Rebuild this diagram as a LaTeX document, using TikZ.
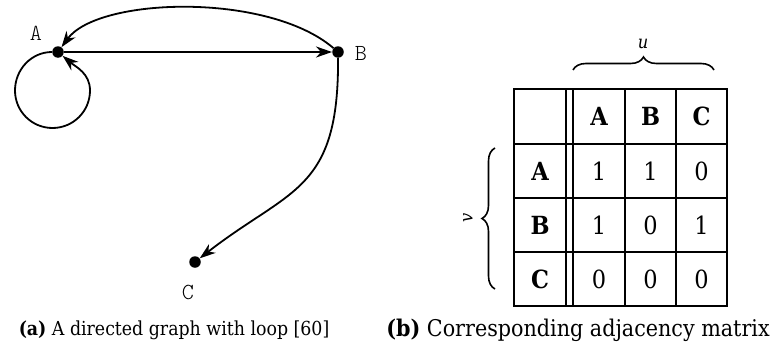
\documentclass[tikz,border=0pt]{standalone}
\usepackage{fontspec}
\newfontfamily\capfont{DejaVu Serif Condensed}
\newfontfamily\lblfont{lmmonolt10-regular.otf}
\usetikzlibrary{arrows.meta,decorations.pathreplacing}
\tikzset{
    vertex/.style={circle, fill=black, inner sep=0pt, minimum size=11.5pt},
    vlabel/.style={font=\lblfont\fontsize{23}{23}\selectfont},
    arc/.style={line width=1.8pt, -{Stealth[length=16pt,width=11pt,inset=5pt]}},
    tab/.style={line width=1.2pt},
    cell/.style={font=\capfont\fontsize{25}{25}\selectfont},
    head/.style={font=\capfont\bfseries\fontsize{25}{25}\selectfont},
    brc/.style={line width=1.6pt, decorate, decoration={brace, amplitude=13pt}},
    axis/.style={font=\capfont\itshape\fontsize{18}{18}\selectfont},
}
\begin{document}
\begin{tikzpicture}[x=1pt, y=1pt]
    \useasboundingbox (0,0) rectangle (773,349);
    % Graph
    \node[vertex] (A) at (58,297) {};
    \node[vertex] (B) at (338,297) {};
    \node[vertex] (C) at (195,87) {};
    \node[vlabel] (labA) at (36,316) {A};
    \node[vlabel] (labB) at (361,296) {B};
    \node[vlabel] (labC) at (188,57) {C};
    \coordinate (loopL) at (15,258.5);
    \coordinate (loopB) at (52.5,221);
    \coordinate (loopR) at (90,258.5);
    \draw[arc] (A) -- (B);
    \draw[arc] (B) .. controls +(-70,60) and +(40,55) .. (A);
    \draw[arc] (B) .. controls +(1,-140) and +(95,74) .. (C);
    \draw[arc] (A) to[out=180, in=90] (loopL) to[out=-90, in=180] (loopB)
        to[out=0, in=-90] (loopR) to[out=90, in=-40] (A);
    % Matrix grid
    \draw[tab] (514,43) rectangle (727,260);
    \draw[tab] (514,205) -- (727,205);
    \draw[tab] (514,151) -- (727,151);
    \draw[tab] (514,97) -- (727,97);
    \draw[tab] (566,43) -- (566,260);
    \draw[tab] (573,43) -- (573,260);
    \draw[tab] (625,43) -- (625,260);
    \draw[tab] (676,43) -- (676,260);
    % Headers
    \node[head] (hA) at (599,232.5) {A}; \node[head] (hB) at (650.5,232.5) {B}; \node[head] (hC) at (701.5,232.5) {C};
    \node[head] (rA) at (540,178) {A}; \node[head] (rB) at (540,124) {B}; \node[head] (rC) at (540,70) {C};
    % Values
    \node[cell] (mAA) at (599,178) {1}; \node[cell] (mAB) at (650.5,178) {1}; \node[cell] (mAC) at (701.5,178) {0};
    \node[cell] (mBA) at (599,124) {1}; \node[cell] (mBB) at (650.5,124) {0}; \node[cell] (mBC) at (701.5,124) {1};
    \node[cell] (mCA) at (599,70) {0}; \node[cell] (mCB) at (650.5,70) {0}; \node[cell] (mCC) at (701.5,70) {0};
    % Braces
    \draw[brc] (573,279) -- (714,279);
    \node[axis] (u) at (643,305) {u};
    \draw[brc] (495,60) -- (495,201);
    \node[axis, rotate=90] (v) at (468,131) {v};
    % Captions
    \node[font=\capfont\fontsize{19.3}{19.3}\selectfont] (capA) at (174,19) {\textbf{(a)} A directed graph with loop [60]};
    \node[font=\capfont\fontsize{23}{23}\selectfont] (capB) at (578,19) {\textbf{(b)} Corresponding adjacency matrix};
\end{tikzpicture}
\end{document}
